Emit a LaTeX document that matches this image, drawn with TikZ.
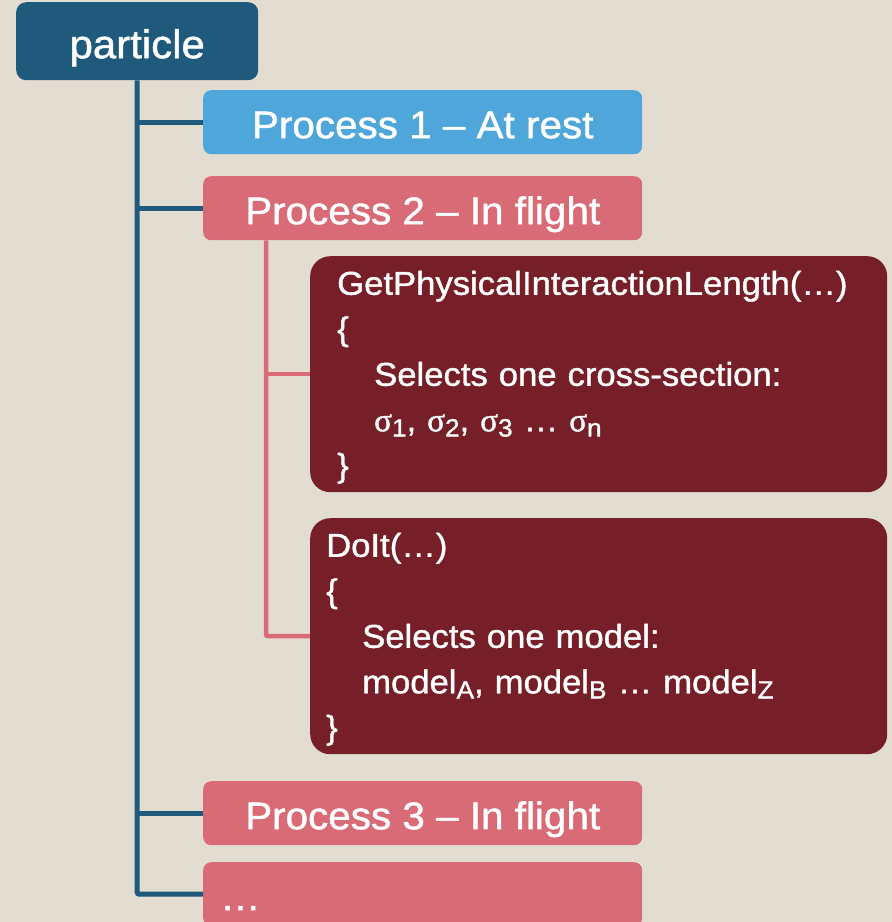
\documentclass[tikz,border=0pt]{standalone}
\usepackage{fontspec}
\setmainfont{Liberation Sans}[FakeStretch=1.05,FakeBold=1.2]
\newfontfamily\greekfont{Liberation Serif}[FakeBold=1.2]
\definecolor{bgc}{HTML}{E3DDD1}
\definecolor{dblue}{HTML}{1F5A7C}
\definecolor{lblue}{HTML}{4EA6DA}
\definecolor{pinkc}{HTML}{D96B76}
\definecolor{dred}{HTML}{761F29}
\newcommand\lowx[1]{\raisebox{-0.3ex}{\fontsize{25}{25}\selectfont #1}}
\newcommand\sig{{\greekfont σ}}
\begin{document}
\begin{tikzpicture}[x=1pt,y=-1pt,
  proc/.style={rounded corners=8pt, minimum width=439pt, minimum height=64pt, anchor=north west,
    text=white, font=\fontsize{38.5}{40}\selectfont, inner sep=0pt, text height=32pt, text depth=0pt},
  codebox/.style={rounded corners=20pt, fill=dred, minimum height=236pt, anchor=north west,
    text=white, font=\fontsize{33}{45.5}\selectfont, align=left},
  trunk/.style={draw=dblue, line width=5pt, rounded corners=2pt},
  ptrunk/.style={draw=pinkc, line width=4.5pt, rounded corners=2pt}]
\useasboundingbox (0,0) rectangle (892,922);
\clip (0,0) rectangle (892,922);
\fill[bgc] (0,0) rectangle (892,922);

\node[proc, fill=dblue, minimum width=242pt, minimum height=78pt, rounded corners=10pt,
  font=\fontsize{40}{42}\selectfont, text height=34pt] (particle) at (16,2) {particle};
\node[proc, fill=lblue] (p1) at (203,90) {Process 1 – At rest};
\node[proc, fill=pinkc] (p2) at (203,176) {Process 2 – In flight};
\node[codebox, text width=523pt, inner xsep=27pt] (gpil) at (310,256)
  {\rule{0pt}{30pt}GetPhysicalInteractionLength(…)\\
   \{\\
   \hspace*{37pt}Selects one cross-section:\\
   \hspace*{37pt}\sig\lowx{1}, \sig\lowx{2}, \sig\lowx{3} … \sig\lowx{n}\\
   \}};
\node[codebox, text width=545pt, inner xsep=16pt] (doit) at (310,518)
  {\rule{0pt}{30pt}DoIt(…)\\
   \{\\
   \hspace*{36pt}Selects one model:\\
   \hspace*{36pt}model\lowx{A}, model\lowx{B} … model\lowx{Z}\\
   \}};
\node[proc, fill=pinkc] (p3) at (203,781) {Process 3 – In flight};
\node[proc, fill=pinkc, align=left, text width=405pt, inner xsep=17pt] (dots) at (203,862) {…};

\draw[trunk] (particle.south) |- (dots.west);
\draw[trunk] (particle.south |- p1.west) -- (p1.west);
\draw[trunk] (particle.south |- p2.west) -- (p2.west);
\draw[trunk] (particle.south |- p3.west) -- (p3.west);
\draw[ptrunk] ([xshift=63pt]p2.south west) |- (doit.west);
\draw[ptrunk] ([xshift=63pt]p2.south west |- gpil.west) -- (gpil.west);
\end{tikzpicture}
\end{document}
